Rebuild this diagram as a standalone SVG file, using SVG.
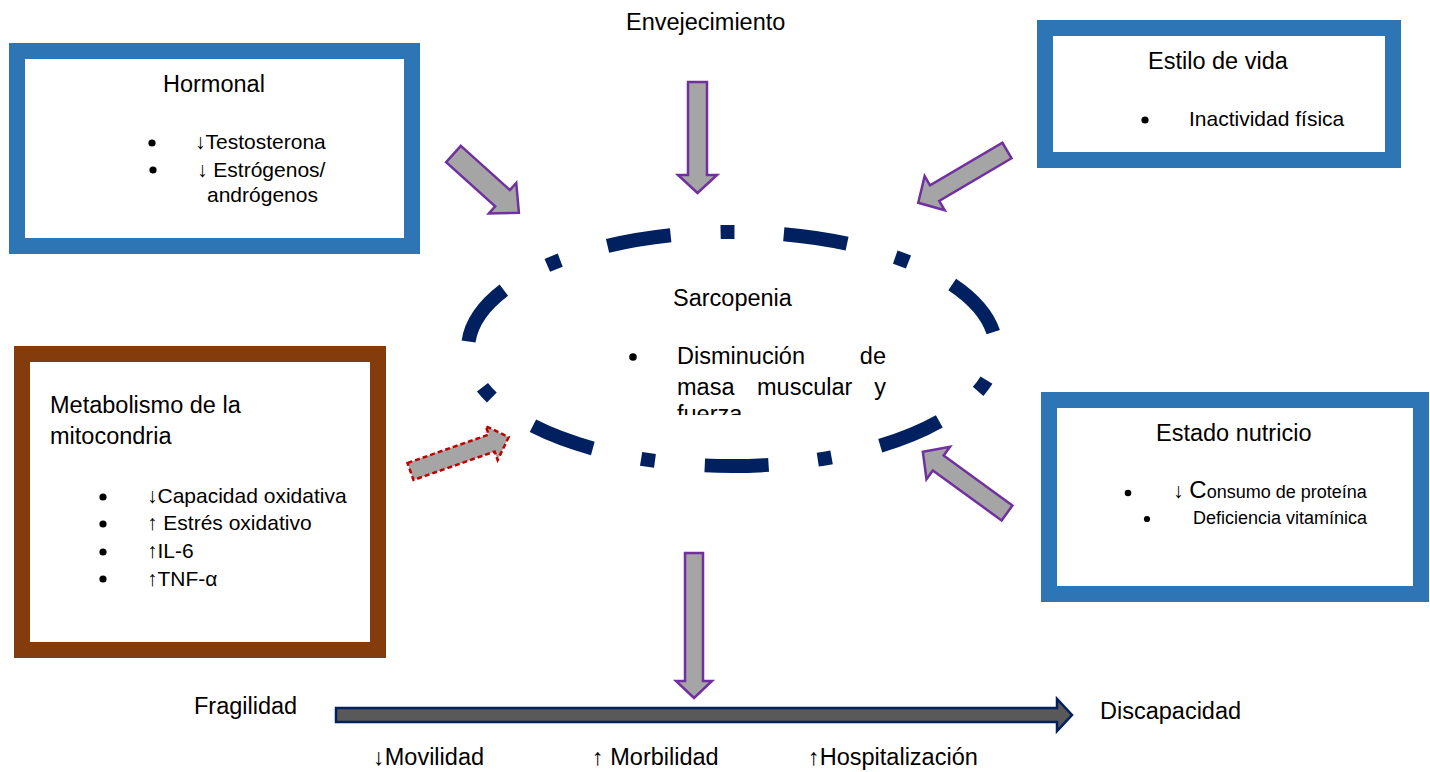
<svg xmlns="http://www.w3.org/2000/svg" width="1430" height="772" viewBox="0 0 1430 772">
<style>
text { font-family: "Liberation Sans", Arial, sans-serif; fill: #000; }
.t { font-size: 23.5px; }
.b { font-size: 21px; }
.s { font-size: 18px; }
.dot { fill: #000; }
.blue { fill: #fff; stroke: #2E75B6; stroke-width: 16; }
.brown { fill: #fff; stroke: #843C0C; stroke-width: 16; }
.ga { fill: #A5A5A5; stroke: #7030A0; stroke-width: 2.5; stroke-linejoin: miter; }
.gd { fill: #A5A5A5; stroke: #C00000; stroke-width: 2.5; stroke-dasharray: 5 3; }
</style>
<defs>
<clipPath id="clipSar"><rect x="600" y="250" width="320" height="165"/></clipPath>
</defs>
<rect width="1430" height="772" fill="#fff"/>

<g id="envejecimiento">
<text class="t" x="626" y="30">Envejecimiento</text>
</g>

<g id="hormonal">
<rect class="blue" x="17" y="51" width="395" height="195"/>
<text class="t" x="163" y="92">Hormonal</text>
<circle class="dot" cx="152" cy="143" r="3.6"/>
<text class="b" x="195" y="149">↓Testosterona</text>
<circle class="dot" cx="153" cy="170" r="3.6"/>
<text class="b" x="197" y="177">↓ Estrógenos/</text>
<text class="b" x="207" y="202">andrógenos</text>
</g>

<g id="estilo">
<rect class="blue" x="1045" y="28" width="348" height="132"/>
<text class="t" x="1148" y="69">Estilo de vida</text>
<circle class="dot" cx="1145" cy="120" r="3.6"/>
<text class="b" x="1189" y="126">Inactividad física</text>
</g>

<g id="sarcopenia">
<ellipse cx="732" cy="349" rx="264" ry="117" fill="none" stroke="#002060" stroke-width="14" pathLength="1242" stroke-dasharray="64 50 14 49.4" stroke-dashoffset="81"/>
<text class="t" x="673" y="306">Sarcopenia</text>
<circle class="dot" cx="633" cy="357" r="3.8"/>
<text class="t" x="677" y="364">Disminución</text>
<text class="t" x="886" y="364" text-anchor="end">de</text>
<text class="t" x="677" y="395">masa</text>
<text class="t" x="757" y="395">muscular</text>
<text class="t" x="886" y="395" text-anchor="end">y</text>
<text class="t" x="677" y="422" clip-path="url(#clipSar)">fuerza</text>
</g>

<g id="metabolismo">
<rect class="brown" x="22" y="354" width="356" height="296"/>
<text class="t" x="50" y="413">Metabolismo de la</text>
<text class="t" x="50" y="444">mitocondria</text>
<circle class="dot" cx="103" cy="497" r="3.6"/>
<text class="b" x="147" y="503">↓Capacidad oxidativa</text>
<circle class="dot" cx="103" cy="524" r="3.6"/>
<text class="b" x="147" y="530">↑ Estrés oxidativo</text>
<circle class="dot" cx="103" cy="552" r="3.6"/>
<text class="b" x="147" y="558">↑IL-6</text>
<circle class="dot" cx="103" cy="579" r="3.6"/>
<text class="b" x="147" y="586">↑TNF-α</text>
</g>

<g id="nutricio">
<rect class="blue" x="1049" y="400" width="372" height="194"/>
<text class="t" x="1156" y="441">Estado nutricio</text>
<circle class="dot" cx="1128" cy="493" r="3.3"/>
<text class="b" x="1173" y="498">↓ <tspan font-size="24">C</tspan><tspan font-size="18">onsumo de proteína</tspan></text>
<circle class="dot" cx="1147" cy="519" r="3.1"/>
<text class="s" x="1193" y="524">Deficiencia vitamínica</text>
</g>

<g id="fragilidad">
<text class="t" x="194" y="714">Fragilidad</text>
</g>
<g id="discapacidad">
<text class="t" x="1100" y="719">Discapacidad</text>
</g>
<g id="consecuencias">
<text class="t" x="373" y="765">↓Movilidad</text>
<text class="t" x="592" y="765">↑ Morbilidad</text>
<text class="t" x="808" y="765">↑Hospitalización</text>
</g>

<g id="connectors">
<polygon class="ga" points="688,82 707,82 707,175 717,175 697.5,193 678,175 688,175"/>
<polygon class="ga" transform="translate(453.5,154) rotate(42)" points="0,-11 66,-11 66,-20.5 88,0 66,20.5 66,11 0,11"/>
<polygon class="ga" transform="translate(1007,150.5) rotate(149.5)" points="0,-9 84,-9 84,-19.7 103,0 84,19.7 84,9 0,9"/>
<polygon class="ga" transform="translate(1007,513) rotate(-144)" points="0,-9.2 85,-9.2 85,-20 104,0 85,20 85,9.2 0,9.2"/>
<polygon class="gd" transform="translate(410.5,471.5) rotate(-19.3)" points="0,-9 86,-9 86,-18 104,0 86,18 86,9 0,9"/>
<polygon class="ga" points="685,553 703,553 703,681 712,681 694,698 676,681 685,681"/>
<polygon fill="#595959" stroke="#002060" stroke-width="2.5" points="336,708 1057,708 1057,699 1072,715 1057,731 1057,722 336,722"/>
</g>
</svg>
